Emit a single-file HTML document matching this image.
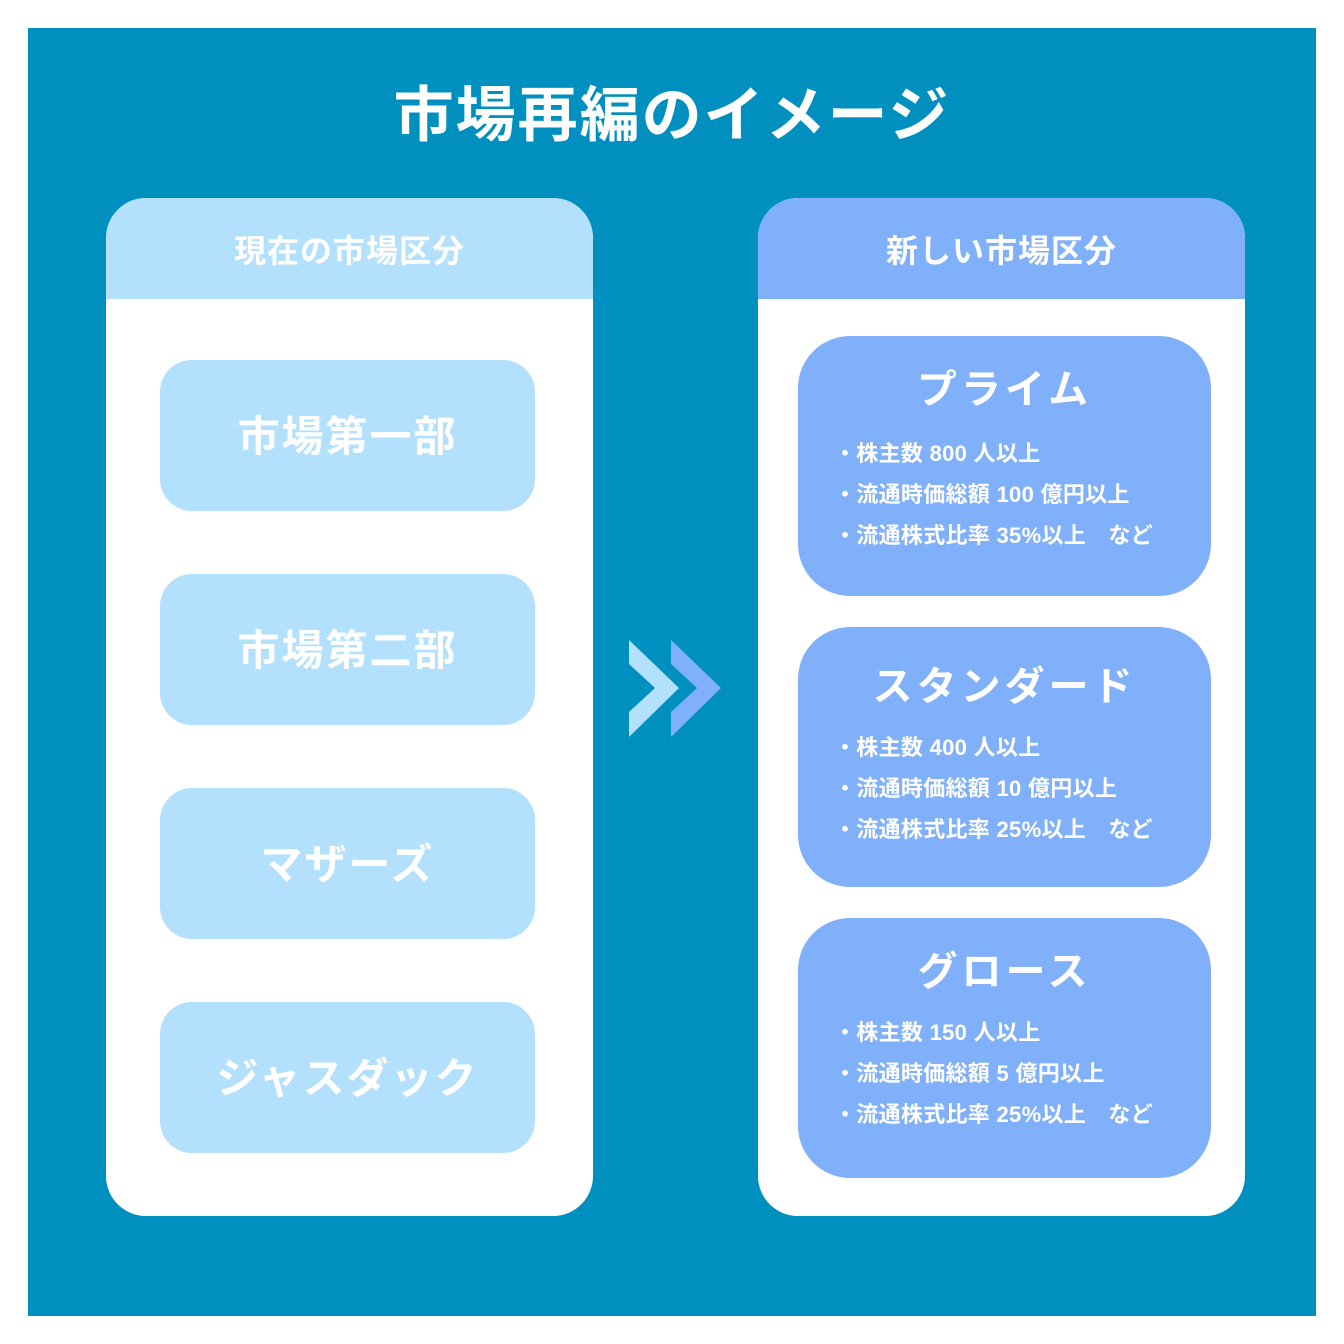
<!DOCTYPE html>
<html><head><meta charset="utf-8"><style>
body{margin:0;width:1344px;height:1344px;background:#fff;position:relative;overflow:hidden;font-family:"Liberation Sans","Noto Sans CJK JP",sans-serif;color:#fff;font-weight:bold}
.bg{position:absolute;left:28px;top:28px;width:1288px;height:1288px;background:#0090BF}
.t{position:absolute;left:0;width:1344px;top:80px;text-align:center;font-size:60px;line-height:72px;letter-spacing:2px}
.panel{position:absolute;top:198px;width:487px;height:1018px;background:#fff;border-radius:40px;overflow:hidden}
.hd{height:101px;line-height:106px;text-align:center;font-size:32px;letter-spacing:1px}
.lb{position:absolute;left:160px;width:375px;height:151px;background:#B3E0FD;border-radius:32px;text-align:center;line-height:154px;font-size:42px;letter-spacing:2px}
.rb{position:absolute;left:798px;width:413px;height:260px;background:#80B0FA;border-radius:52px}
.rb h3{margin:0;position:absolute;top:26px;width:100%;text-align:center;font-size:40px;line-height:56px;letter-spacing:4px}
.rb ul{list-style:none;margin:0;padding:0;position:absolute;left:36px;top:97px;font-size:22px;line-height:41px;font-weight:bold;letter-spacing:0.3px}
</style></head><body>
<div class="bg"></div>
<div class="t">市場再編のイメージ</div>
<div class="panel" style="left:106px"><div class="hd" style="background:#B3E0FD">現在の市場区分</div></div>
<div class="panel" style="left:758px"><div class="hd" style="background:#80B0FA">新しい市場区分</div></div>
<div class="lb" style="top:360px">市場第一部</div>
<div class="lb" style="top:574px">市場第二部</div>
<div class="lb" style="top:788px">マザーズ</div>
<div class="lb" style="top:1002px">ジャスダック</div>
<div class="rb" style="top:336px"><h3>プライム</h3><ul><li>・株主数 800 人以上</li><li>・流通時価総額 100 億円以上</li><li>・流通株式比率 35%以上　など</li></ul></div>
<div class="rb" style="top:627px"><h3 style="top:32px">スタンダード</h3><ul style="top:100px"><li>・株主数 400 人以上</li><li>・流通時価総額 10 億円以上</li><li>・流通株式比率 25%以上　など</li></ul></div>
<div class="rb" style="top:918px"><h3 style="top:26px">グロース</h3><ul style="top:94px"><li>・株主数 150 人以上</li><li>・流通時価総額 5 億円以上</li><li>・流通株式比率 25%以上　など</li></ul></div>
<svg style="position:absolute;left:0;top:0" width="1344" height="1344">
<polygon points="629,640 679,688 629,737 629,712 655,688 629,664" fill="#B3E0FD"/>
<polygon points="671,640 721,688 671,737 671,712 697,688 671,664" fill="#80B0FA"/>
</svg>
</body></html>
